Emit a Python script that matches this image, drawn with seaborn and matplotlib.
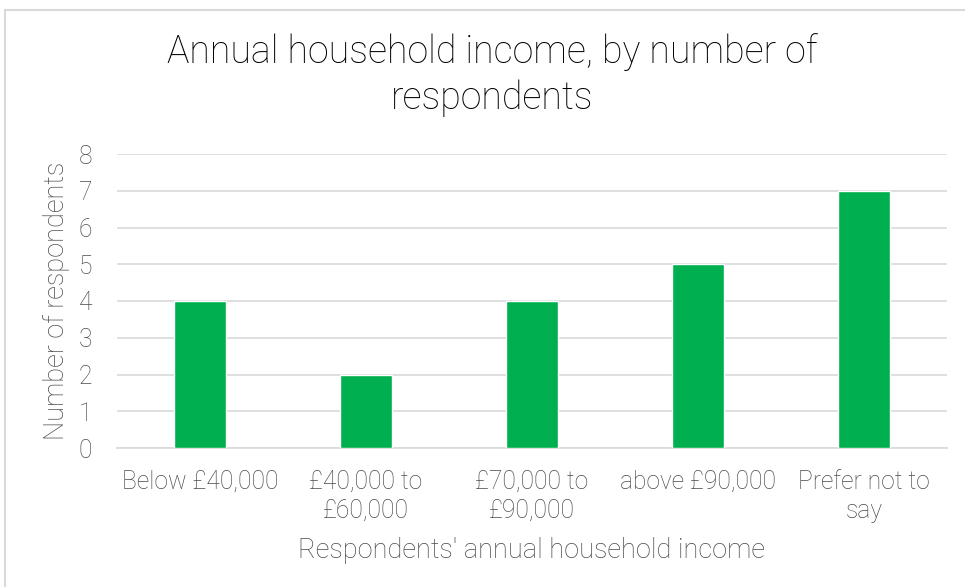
import matplotlib
matplotlib.use("Agg")
import matplotlib.pyplot as plt
from matplotlib.patches import Rectangle
import seaborn as sns
import pandas as pd

categories = ["Below £40,000", "£40,000 to\n£60,000", "£70,000 to\n£90,000",
              "above £90,000", "Prefer not to\nsay"]
respondents = [4, 2, 4, 5, 7]
y_ticks = [0, 1, 2, 3, 4, 5, 6, 7, 8]

sns.set_theme(style="white")
plt.rcParams["font.family"] = ["Roboto", "DejaVu Sans"]
plt.rcParams["font.weight"] = "light"

df = pd.DataFrame({"income": categories, "count": respondents})

W, H = 965, 587
fig = plt.figure(figsize=(W / 100, H / 100), dpi=100)
ax = fig.add_axes([117 / W, 1 - 448 / H, (947 - 117) / W, (448 - 154) / H])

# chart area frame
fig.patches.append(Rectangle((5 / W, -0.05), 1.1, 1 - 10 / H + 0.05,
                             transform=fig.transFigure, fill=False,
                             edgecolor="#d9d9d9", linewidth=1.5))

sns.barplot(data=df, x="income", y="count", color="#00B050", width=0.31,
            saturation=1, ax=ax, zorder=3)

ax.set_ylim(0, 8)
ax.set_yticks(y_ticks)
ax.set_xlim(-0.5, len(categories) - 0.5)
ax.grid(axis="y", color="#d9d9d9", linewidth=1.2, zorder=0)
for s in ["top", "right", "left"]:
    ax.spines[s].set_visible(False)
ax.spines["bottom"].set_color("#d9d9d9")
ax.spines["bottom"].set_linewidth(1.2)
ax.tick_params(axis="both", length=0, labelsize=17.7, colors="#4a4a4a")
ax.tick_params(axis="y", pad=18)
ax.tick_params(axis="x", pad=16)
for lab in ax.get_xticklabels() + ax.get_yticklabels():
    lab.set_fontweight("light")
    lab.set_linespacing(1.25)

ax.set_xlabel("Respondents' annual household income", fontsize=19.5,
              color="#4a4a4a", fontweight="light", labelpad=10)
ax.set_ylabel("Number of respondents", fontsize=19.5, color="#4a4a4a",
              fontweight="light", labelpad=6)

fig.text(0.51, 1 - 75 / H, "Annual household income, by number of\nrespondents",
         ha="center", va="center", fontsize=27, color="#000000",
         fontweight="light", linespacing=1.3)

fig.savefig("out.png", dpi=100, facecolor="white")
